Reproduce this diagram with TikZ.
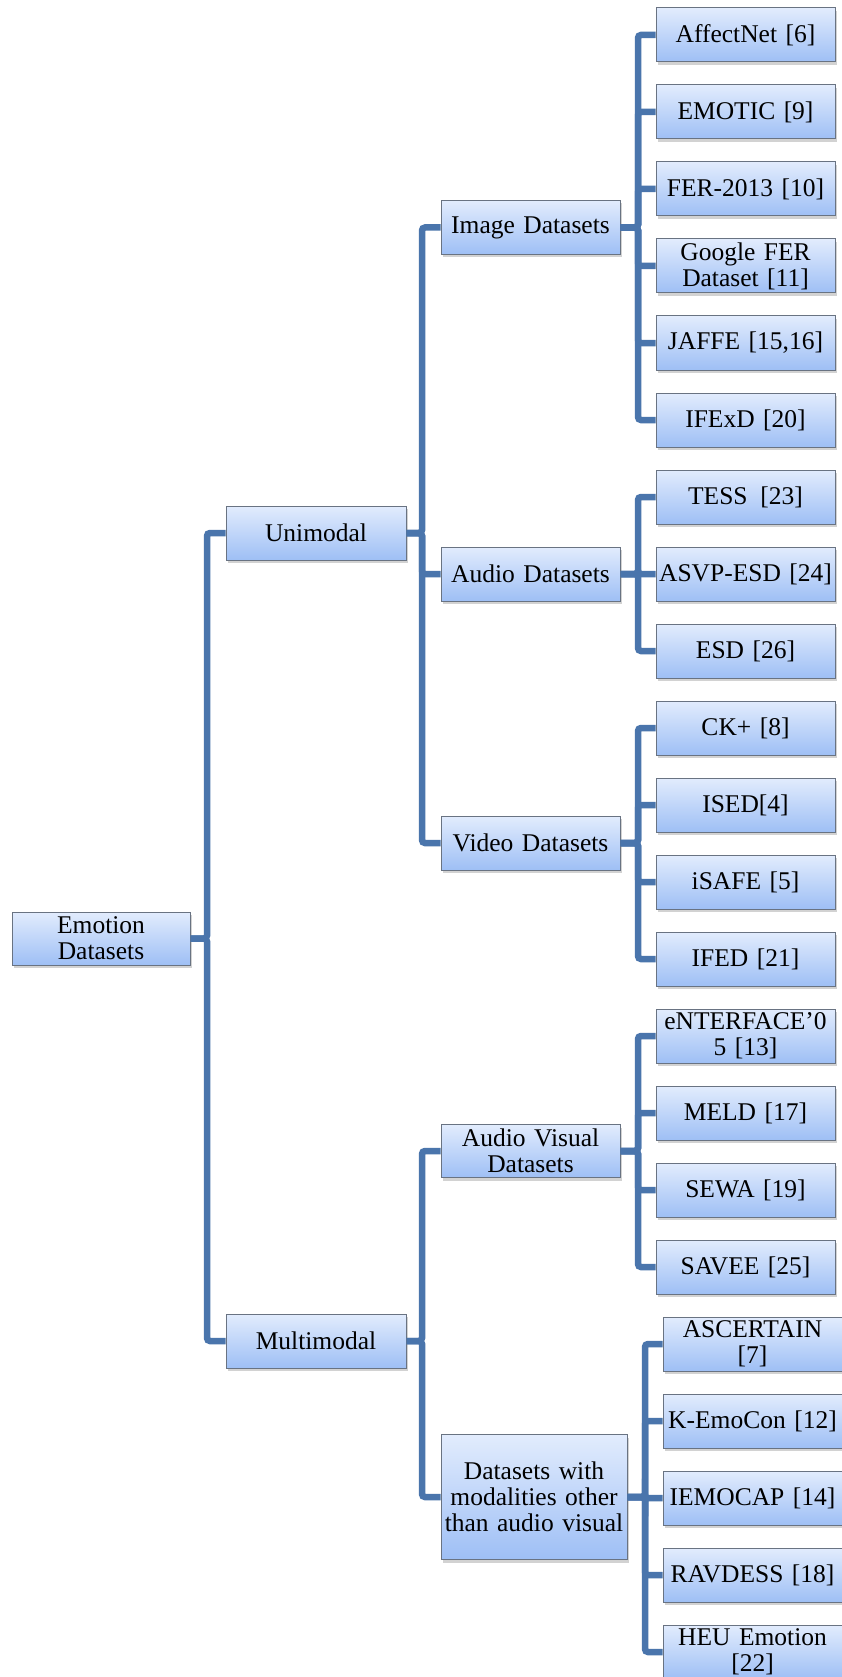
\documentclass[tikz,border=0pt]{standalone}
\usepackage{fontspec}
\setmainfont{Liberation Serif}
\usetikzlibrary{shadows}
\definecolor{connc}{RGB}{74,117,172}
\definecolor{boxtop}{RGB}{226,236,253}
\definecolor{boxbot}{RGB}{158,191,245}
\definecolor{boxedge}{RGB}{105,115,130}
\tikzset{
  box/.style={rectangle, draw=boxedge, line width=1pt, top color=boxtop, bottom color=boxbot,
    inner sep=0pt, align=center, font=\fontsize{25.5}{26}\selectfont,
    drop shadow={opacity=0.35, shadow xshift=2pt, shadow yshift=-3pt}},
  leaf/.style={box, minimum width=179pt, minimum height=54pt, text width=175pt},
  mid/.style={box, minimum width=179pt, minimum height=54pt, text width=175pt},
  conn/.style={draw=connc, line width=6.5pt, rounded corners=3pt}
}
\begin{document}
\begin{tikzpicture}[x=1pt, y=-1pt]
\useasboundingbox (0,0) rectangle (842,1677);
\fill[white] (0,0) rectangle (842,1677);
% trunk coordinates
\coordinate (t0) at (207,0);
\coordinate (t1) at (422,0);
\coordinate (t2) at (638,0);
\coordinate (t3) at (645,0);
% root and first level
\node[box, minimum width=178pt, minimum height=53pt, text width=174pt] (root) at (101,938.5) {Emotion\\Datasets};
\node[box, minimum width=180pt, minimum height=54pt, text width=176pt] (uni) at (316,533) {Unimodal};
\node[box, minimum width=180pt, minimum height=54pt, text width=176pt] (multi) at (316,1341) {Multimodal};
% second level
\node[mid] (img) at (530.5,227.5) {Image Datasets};
\node[mid] (aud) at (530.5,574) {Audio Datasets};
\node[mid] (vid) at (530.5,843) {Video Datasets};
\node[mid, minimum height=53pt] (av) at (530.5,1151) {Audio Visual\\Datasets};
\node[box, minimum width=186pt, minimum height=125pt, text width=182pt] (oth) at (534,1497) {Datasets with\\modalities other\\than audio visual};
% leaves
\node[leaf] (l0) at (745.5,35) {AffectNet [6]};
\node[leaf] (l1) at (745.5,112) {EMOTIC [9]};
\node[leaf] (l2) at (745.5,189) {FER-2013 [10]};
\node[leaf] (l3) at (745.5,266) {Google FER\\Dataset [11]};
\node[leaf] (l4) at (745.5,343) {JAFFE [15,16]};
\node[leaf] (l5) at (745.5,420) {IFExD [20]};
\node[leaf] (l6) at (745.5,497) {TESS\enspace[23]};
\node[leaf] (l7) at (745.5,574) {ASVP-ESD [24]};
\node[leaf] (l8) at (745.5,651) {ESD [26]};
\node[leaf] (l9) at (745.5,728) {CK+ [8]};
\node[leaf] (l10) at (745.5,805) {ISED[4]};
\node[leaf] (l11) at (745.5,882) {iSAFE [5]};
\node[leaf] (l12) at (745.5,959) {IFED [21]};
\node[leaf] (l13) at (745.5,1036) {eNTERFACE’0\\5 [13]};
\node[leaf] (l14) at (745.5,1113) {MELD [17]};
\node[leaf] (l15) at (745.5,1190) {SEWA [19]};
\node[leaf] (l16) at (745.5,1267) {SAVEE [25]};
\node[leaf] (l17) at (752.5,1344) {ASCERTAIN\\{[7]}};
\node[leaf] (l18) at (752.5,1421) {K-EmoCon [12]};
\node[leaf] (l19) at (752.5,1498) {IEMOCAP [14]};
\node[leaf] (l20) at (752.5,1575) {RAVDESS [18]};
\node[leaf] (l21) at (752.5,1652) {HEU Emotion\\{[22]}};
% connectors
\foreach \c in {uni,multi}
  \draw[conn] (root.east) -- (root.east -| t0) |- (\c.west);
\foreach \c in {img,aud,vid}
  \draw[conn] (uni.east) -- (uni.east -| t1) |- (\c.west);
\foreach \c in {av,oth}
  \draw[conn] (multi.east) -- (multi.east -| t1) |- (\c.west);
\foreach \c in {l0,l1,l2,l3,l4,l5}
  \draw[conn] (img.east) -- (img.east -| t2) |- (\c.west);
\foreach \c in {l6,l7,l8}
  \draw[conn] (aud.east) -- (aud.east -| t2) |- (\c.west);
\foreach \c in {l9,l10,l11,l12}
  \draw[conn] (vid.east) -- (vid.east -| t2) |- (\c.west);
\foreach \c in {l13,l14,l15,l16}
  \draw[conn] (av.east) -- (av.east -| t2) |- (\c.west);
\foreach \c in {l17,l18,l19,l20,l21}
  \draw[conn] (oth.east) -- (oth.east -| t3) |- (\c.west);
\end{tikzpicture}
\end{document}
